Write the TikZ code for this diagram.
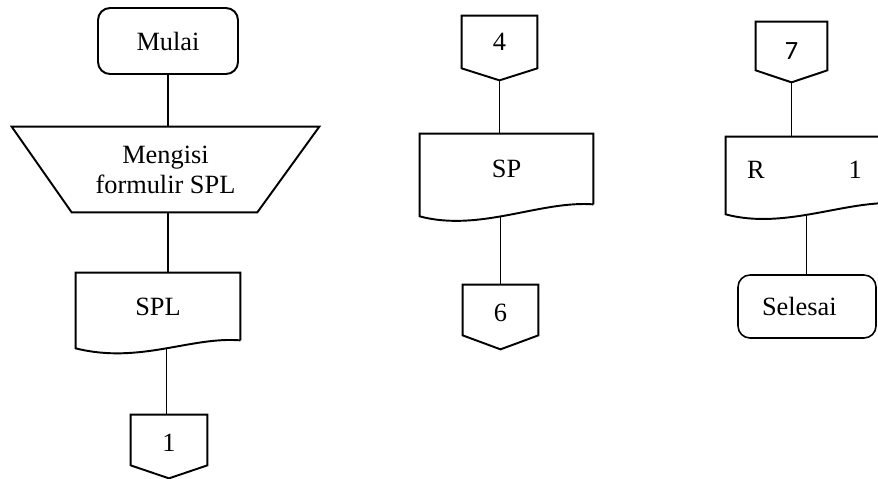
\documentclass[tikz,border=0pt]{standalone}
\usepackage{fontspec}
\setmainfont{Liberation Serif}
\newfontfamily\calfont{Carlito}

\begin{document}
\begin{tikzpicture}[x=0.02cm, y=-0.02cm,
  thk/.style={line width=1.1pt},
  lnk/.style={line width=0.9pt},
  thinlnk/.style={line width=0.5pt},
  box/.style={inner sep=0pt, font=\fontsize{15}{17}\selectfont, align=center},
  term/.style={box, draw, rounded corners=0.24cm}]
\clip (0,0) rectangle (878,478);

% kolom kiri
\node[term, thk, minimum width=2.8cm, minimum height=1.32cm] (mulai) at (168,41) {Mulai};
\node[box, minimum width=6.14cm, minimum height=1.7cm] (form) at (165.5,169.5) {Mengisi\\formulir SPL};
\draw[thk] (form.north west) -- (form.north east) -- ([xshift=-1.24cm]form.south east) -- ([xshift=1.2cm]form.south west) -- cycle;
\node[box, minimum width=3.28cm, minimum height=1.34cm] (spl) at (158,306.5) {SPL};
\draw[thk] (spl.south east) -- (spl.north east) -- (spl.north west) -- ([yshift=-0.16cm]spl.south west)
  .. controls +(64,16) and +(-50,-4) .. (spl.south east) coordinate[pos=0.52] (splw);
\node[box, minimum width=1.52cm, minimum height=1cm] (one) at (169,440) {\raisebox{-0.06cm}[\height][\depth]{1}};
\draw[thk] (one.north west) -- (one.north east) -- (one.south east) -- ([yshift=-0.26cm]one.south) -- (one.south west) -- cycle;
\draw[lnk] (mulai.south) -- (mulai.south |- form.north);
\draw[lnk] (mulai.south |- form.south) -- (mulai.south |- spl.north);
\draw[lnk] (splw) -- (splw |- one.north);

% kolom tengah
\node[box, minimum width=1.5cm, minimum height=1.04cm] (four) at (499.5,42) {4};
\draw[thk] (four.north west) -- (four.north east) -- (four.south east) -- ([yshift=-0.24cm]four.south) coordinate (fourtip) -- (four.south west) -- cycle;
\node[box, minimum width=3.46cm, minimum height=1.4cm] (sp) at (506.5,169) {SP};
\draw[thk] (sp.south east) -- (sp.north east) -- (sp.north west) -- ([yshift=-0.24cm]sp.south west)
  .. controls +(60,16) and +(-53,-4) .. (sp.south east) coordinate[pos=0.45] (spw);
\node[box, minimum width=1.5cm, minimum height=1cm] (six) at (500.5,310) {\raisebox{-0.06cm}[\height][\depth]{6}};
\draw[thk] (six.north west) -- (six.north east) -- (six.south east) -- ([yshift=-0.28cm]six.south) -- (six.south west) -- cycle;
\draw[thinlnk] (fourtip) -- (fourtip |- sp.north);
\draw[thinlnk] (spw) -- (spw |- six.north);

% kolom kanan
\node[box, font=\fontsize{15}{17}\calfont, minimum width=1.42cm, minimum height=0.96cm] (seven) at (791.5,46) {\raisebox{-0.1cm}[\height][\depth]{7}};
\draw[thk] (seven.north west) -- (seven.north east) -- (seven.south east) -- ([yshift=-0.24cm]seven.south) coordinate (seventip) -- (seven.south west) -- cycle;
\node[box, align=left, text width=3.46cm, minimum height=1.32cm] (rdoc) at (812.5,170) {\hspace*{0.42cm}R\hspace{1.68cm}1};
\draw[thk] (rdoc.south east) -- (rdoc.north east) -- (rdoc.north west) -- ([yshift=-0.22cm]rdoc.south west)
  .. controls +(60,16) and +(-53,-4) .. (rdoc.south east) coordinate[pos=0.45] (rw);
\node[term, line width=0.9pt, align=left, text width=2.76cm, minimum height=1.26cm] (sel) at (807,306.5) {\hspace*{0.48cm}Selesai};
\draw[thinlnk] (seventip) -- (seventip |- rdoc.north);
\draw[thinlnk] (rw) -- (rw |- sel.north);
\end{tikzpicture}
\end{document}
